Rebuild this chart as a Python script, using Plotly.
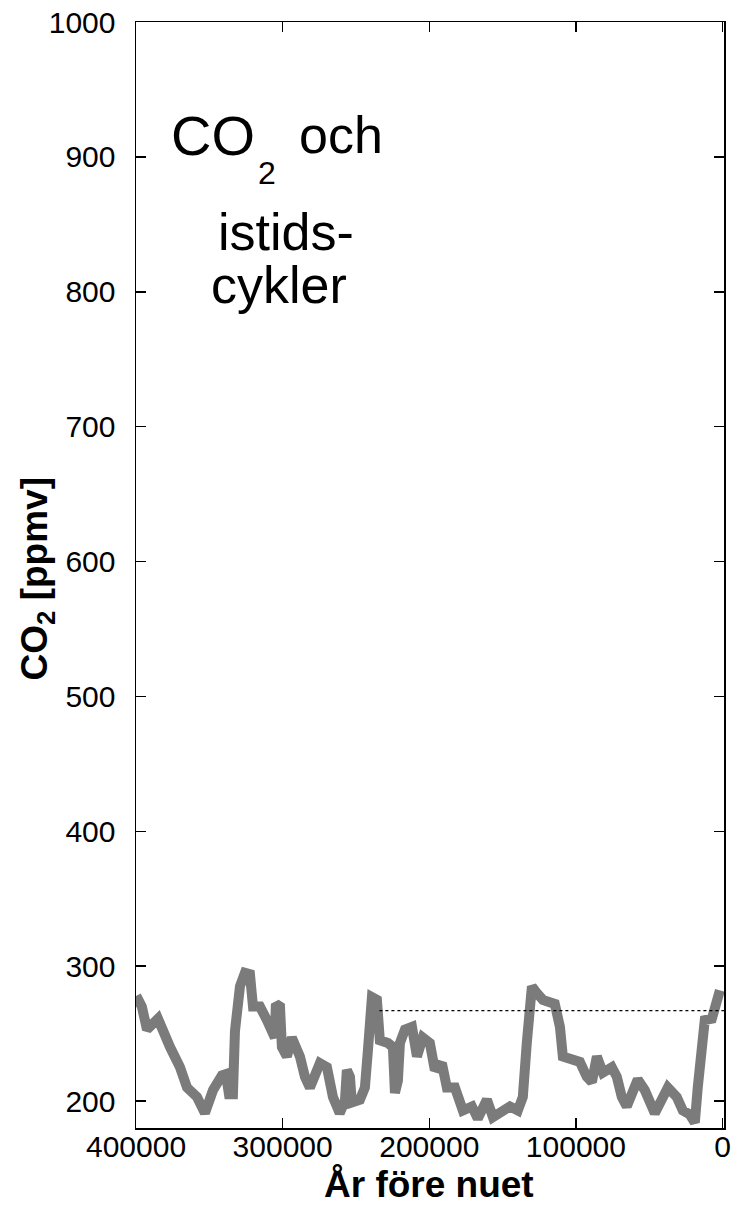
import plotly.graph_objects as go

# Years before present and CO2 (ppmv)
years = [399800, 396000, 392500, 388500, 385000, 376800, 370000, 365200, 358400, 353000,
         347500, 341400, 338700, 336600, 333900, 332500, 329100, 325700, 322300, 320200,
         315500, 310700, 306600, 305300, 304600, 301800, 300500, 297100, 293700, 288200,
         284800, 281400, 274600, 269800, 265700, 261100, 257500, 256200, 254100, 252800,
         247300, 243900, 241800, 239100, 235700, 233700, 228200, 224800, 223400, 221400,
         220000, 216600, 211800, 208400, 204400, 199600, 196200, 191400, 188000, 182500,
         177100, 170900, 166900, 160700, 156600, 150500, 145000, 139600, 136200, 133500,
         130000, 126600, 122500, 114400, 110900, 108900, 102100, 97300, 92600, 89100,
         85700, 81600, 75500, 72100, 68700, 65300, 57800, 53000, 46200, 41400,
         37300, 31200, 27100, 22300, 18900, 16900, 14200, 12100, 7300, 5300,
         3200, 1800]
co2 = [278, 270, 253, 257, 261, 240, 225, 210, 203, 191,
       208, 219, 220, 205, 205, 252, 285, 295, 294, 270,
       270, 260, 247, 247, 272, 270, 240, 233, 247, 233,
       218, 210, 228, 225, 203, 191, 200, 223, 218, 199,
       201, 210, 238, 277, 275, 245, 243, 240, 206, 215,
       243, 253, 255, 233, 247, 243, 223, 228, 210, 210,
       193, 196, 187, 201, 188, 192, 196, 193, 203, 243,
       285, 280, 275, 272, 255, 233, 230, 229, 218, 214,
       233, 221, 225, 218, 203, 196, 216, 208, 191, 203,
       210, 203, 193, 190, 184, 210, 233, 260, 261, 268,
       280, 282]

ref_years = [234000, -1000]
ref_level = [267, 267]

x_ticks = [400000, 300000, 200000, 100000, 0]
y_ticks = [200, 300, 400, 500, 600, 700, 800, 900, 1000]

FONT = "Liberation Sans, Arial, Helvetica, sans-serif"

fig = go.Figure()
fig.add_trace(go.Scatter(x=years, y=co2, mode="lines",
                         line=dict(color="#7b7b7b", width=10, shape="linear"),
                         showlegend=False, hoverinfo="skip"))
fig.add_trace(go.Scatter(x=ref_years, y=ref_level, mode="lines",
                         line=dict(color="black", width=1.2, dash="dot"),
                         showlegend=False, hoverinfo="skip"))

axis_common = dict(showline=True, linecolor="black", linewidth=1.5, mirror="ticks",
                   ticks="inside", ticklen=10, tickwidth=1.5, tickcolor="black",
                   showgrid=False, zeroline=False, automargin=False,
                   ticklabeloverflow="allow",
                   tickfont=dict(family=FONT, size=30, color="black"))

fig.update_xaxes(range=[400000, -1000], tickvals=x_ticks,
                 ticktext=[str(v) for v in x_ticks], ticklabelstandoff=-9,
                 **axis_common)
fig.update_yaxes(range=[180, 1000], tickvals=y_ticks,
                 ticktext=[str(v) for v in y_ticks], ticklabelstandoff=13,
                 **axis_common)

# axis titles
fig.add_annotation(xref="paper", yref="paper", x=0.498, y=-0.0515,
                   text="<b>År före nuet</b>", showarrow=False,
                   xanchor="center", yanchor="middle",
                   font=dict(family=FONT, size=37, color="black"))
fig.add_annotation(xref="paper", yref="paper", x=-0.168, y=0.497,
                   text="<b>CO<sub>2</sub> [ppmv]</b>", showarrow=False, textangle=-90,
                   xanchor="center", yanchor="middle",
                   font=dict(family=FONT, size=37, color="black"))

# in-plot label
big = dict(family=FONT, size=56, color="black")
mid = dict(family=FONT, size=52, color="black")
fig.add_annotation(xref="paper", yref="paper", x=0.2058, y=0.8978, text="CO",
                   showarrow=False, xanchor="right", yanchor="middle", font=big)
fig.add_annotation(xref="paper", yref="paper", x=0.2230, y=0.8639, text="2",
                   showarrow=False, xanchor="center", yanchor="middle",
                   font=dict(family=FONT, size=32, color="black"))
fig.add_annotation(xref="paper", yref="paper", x=0.2738, y=0.8978, text="och",
                   showarrow=False, xanchor="left", yanchor="middle", font=mid)
fig.add_annotation(xref="paper", yref="paper", x=0.2551, y=0.8097, text="istids-",
                   showarrow=False, xanchor="center", yanchor="middle", font=mid)
fig.add_annotation(xref="paper", yref="paper", x=0.2432, y=0.7622, text="cykler",
                   showarrow=False, xanchor="center", yanchor="middle", font=mid)

fig.update_layout(width=732, height=1218, autosize=False,
                  margin=dict(l=136, r=8, t=22, b=90),
                  paper_bgcolor="white", plot_bgcolor="white",
                  font=dict(family=FONT, color="black"))

# remove the browser's default 8px body margin so the figure fills the window
fig.write_html("out.html", config={"displayModeBar": False, "staticPlot": True},
               post_script="document.body.style.margin='0';document.body.style.overflow='hidden';")
